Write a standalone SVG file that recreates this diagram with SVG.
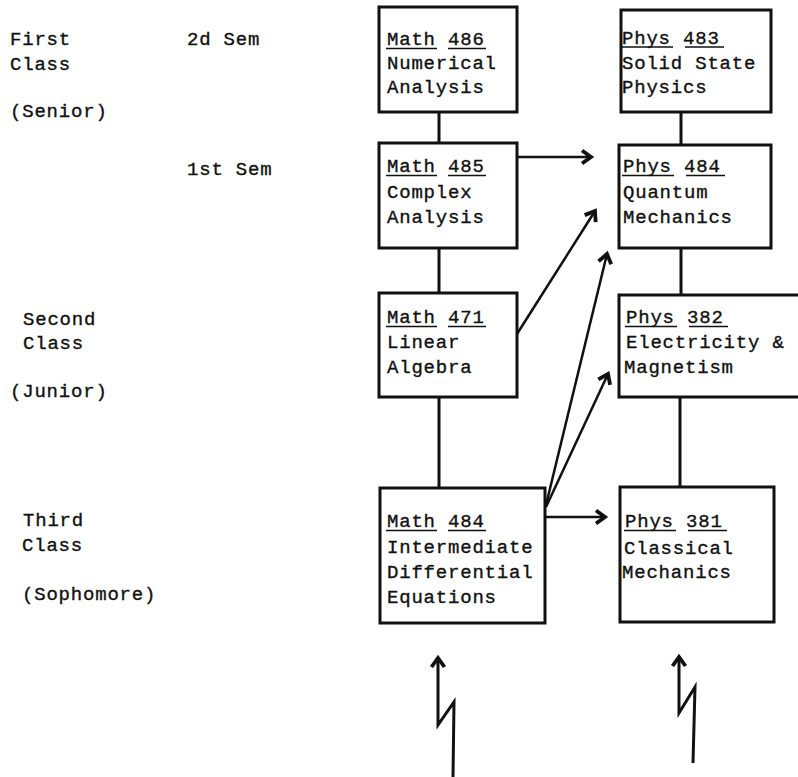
<svg xmlns="http://www.w3.org/2000/svg" width="798" height="777" viewBox="0 0 798 777">
<defs>
<style>
.t{font-family:"Liberation Mono","Courier New",monospace;font-size:19px;letter-spacing:0.8px;fill:#111;stroke:#111;stroke-width:0.35}
.box{fill:#fff;stroke:#111;stroke-width:3}
.ln{fill:none;stroke:#111;stroke-width:3}
.ar{fill:none;stroke:#111;stroke-width:2.5}
.ul{stroke:#111;stroke-width:1.6}
</style>
<marker id="ah" markerUnits="userSpaceOnUse" markerWidth="20" markerHeight="20" viewBox="-12 -10 14 20" refX="0" refY="0" orient="auto">
<path d="M-9,-6.5 L0,0 L-9,6.5" fill="none" stroke="#111" stroke-width="3.8" stroke-linejoin="miter"/>
</marker>
</defs>
<rect width="798" height="777" fill="#fff"/>

<g id="labels">
<text class="t" x="10" y="45">First</text>
<text class="t" x="10" y="70">Class</text>
<text class="t" x="10" y="117">(Senior)</text>
<text class="t" x="187" y="45">2d Sem</text>
<text class="t" x="187" y="175">1st Sem</text>
<text class="t" x="23" y="325">Second</text>
<text class="t" x="23" y="349">Class</text>
<text class="t" x="10" y="397">(Junior)</text>
<text class="t" x="23" y="526">Third</text>
<text class="t" x="22" y="551">Class</text>
<text class="t" x="22" y="600">(Sophomore)</text>
</g>

<g id="connectors">
<line class="ln" x1="439" y1="112" x2="439" y2="143"/>
<line class="ln" x1="439" y1="248" x2="439" y2="293"/>
<line class="ln" x1="439" y1="397" x2="439" y2="488"/>
<line class="ln" x1="681" y1="112" x2="681" y2="145"/>
<line class="ln" x1="681" y1="248" x2="681" y2="295"/>
<line class="ln" x1="680" y1="397" x2="680" y2="487"/>
<line class="ar" x1="517" y1="157" x2="591" y2="157" marker-end="url(#ah)"/>
<line class="ar" x1="517" y1="334" x2="595" y2="211" marker-end="url(#ah)"/>
<line class="ar" x1="546" y1="505" x2="607" y2="254" marker-end="url(#ah)"/>
<line class="ar" x1="546" y1="507" x2="608" y2="374" marker-end="url(#ah)"/>
<line class="ar" x1="546" y1="517" x2="605" y2="517" marker-end="url(#ah)"/>
<polyline class="ln" points="453,777 454,702 438,725 438,658" marker-end="url(#ah)"/>
<polyline class="ln" points="693,763 695,687 679,713 679,657" marker-end="url(#ah)"/>
</g>

<g id="math486">
<rect class="box" x="379" y="7" width="138" height="105"/>
<text class="t" x="387" y="45">Math 486</text>
<line class="ul" x1="386" y1="48.5" x2="437" y2="48.5"/><line class="ul" x1="448" y1="48.5" x2="486" y2="48.5"/>
<text class="t" x="387" y="69">Numerical</text>
<text class="t" x="387" y="93">Analysis</text>
</g>

<g id="math485">
<rect class="box" x="379" y="143" width="138" height="105"/>
<text class="t" x="387" y="172">Math 485</text>
<line class="ul" x1="386" y1="175.5" x2="437" y2="175.5"/><line class="ul" x1="448" y1="175.5" x2="486" y2="175.5"/>
<text class="t" x="387" y="198">Complex</text>
<text class="t" x="387" y="223">Analysis</text>
</g>

<g id="math471">
<rect class="box" x="379" y="293" width="138" height="104"/>
<text class="t" x="387" y="323">Math 471</text>
<line class="ul" x1="386" y1="326.5" x2="437" y2="326.5"/><line class="ul" x1="448" y1="326.5" x2="486" y2="326.5"/>
<text class="t" x="387" y="348">Linear</text>
<text class="t" x="387" y="373">Algebra</text>
</g>

<g id="math484">
<rect class="box" x="380" y="488" width="165" height="135"/>
<text class="t" x="387" y="527">Math 484</text>
<line class="ul" x1="386" y1="530.5" x2="437" y2="530.5"/><line class="ul" x1="448" y1="530.5" x2="486" y2="530.5"/>
<text class="t" x="387" y="553">Intermediate</text>
<text class="t" x="387" y="578">Differential</text>
<text class="t" x="387" y="603">Equations</text>
</g>

<g id="phys483">
<rect class="box" x="621" y="10" width="150" height="102"/>
<text class="t" x="622" y="44">Phys 483</text>
<line class="ul" x1="621" y1="47" x2="673" y2="47"/><line class="ul" x1="685" y1="47" x2="724" y2="47"/>
<text class="t" x="622" y="69">Solid State</text>
<text class="t" x="622" y="93">Physics</text>
</g>

<g id="phys484">
<rect class="box" x="619" y="145" width="152" height="103"/>
<text class="t" x="623" y="172">Phys 484</text>
<line class="ul" x1="622" y1="175.5" x2="674" y2="175.5"/><line class="ul" x1="686" y1="175.5" x2="725" y2="175.5"/>
<text class="t" x="623" y="198">Quantum</text>
<text class="t" x="623" y="223">Mechanics</text>
</g>

<g id="phys382">
<rect class="box" x="619" y="295" width="190" height="102"/>
<text class="t" x="626" y="323">Phys 382</text>
<line class="ul" x1="625" y1="326.5" x2="677" y2="326.5"/><line class="ul" x1="689" y1="326.5" x2="728" y2="326.5"/>
<text class="t" x="626" y="348">Electricity &amp;</text>
<text class="t" x="624" y="373">Magnetism</text>
</g>

<g id="phys381">
<rect class="box" x="620" y="487" width="154" height="135"/>
<text class="t" x="625" y="527">Phys 381</text>
<line class="ul" x1="624" y1="530.5" x2="676" y2="530.5"/><line class="ul" x1="688" y1="530.5" x2="727" y2="530.5"/>
<text class="t" x="624" y="554">Classical</text>
<text class="t" x="622" y="578">Mechanics</text>
</g>
</svg>
